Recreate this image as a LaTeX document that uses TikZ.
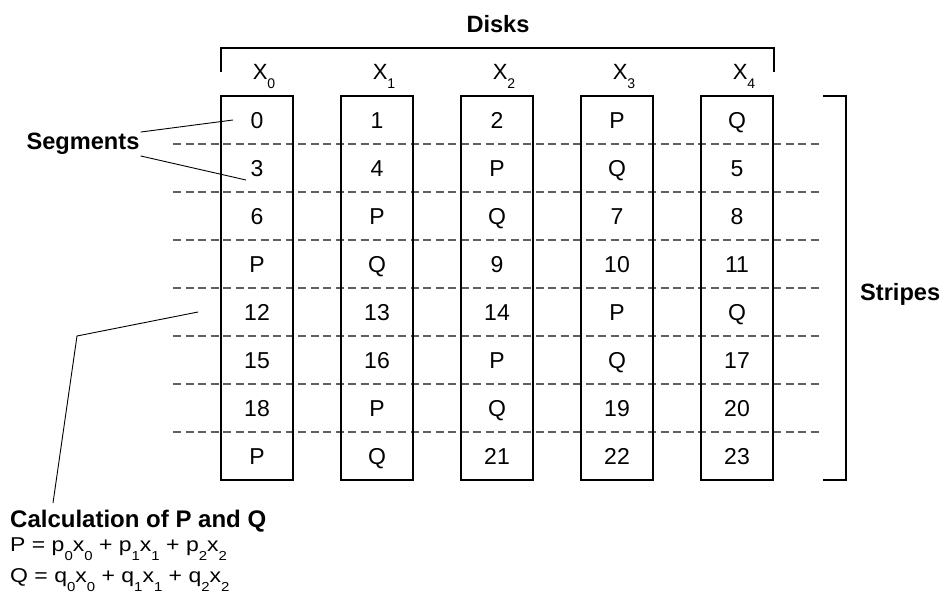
\documentclass[tikz,border=0pt]{standalone}
\usepackage{fontspec}
\setmainfont{Liberation Sans}
\usepackage{tikz}
\usetikzlibrary{positioning}

\definecolor{stripegray}{RGB}{95,95,95}

% low, small index digit
\newcommand{\idx}[2][14]{\raisebox{-9pt}{\fontsize{#1}{#1}\selectfont #2}}

\begin{document}
\begin{tikzpicture}[x=1pt,y=-1pt,font=\fontsize{23}{27}\selectfont]

	\tikzstyle{disk}=[draw, line width=1.1pt, minimum width=72pt, minimum height=384pt, inner sep=0pt];
	\tikzstyle{segment}=[inner sep=0pt, text height=16.5pt, text depth=0pt];
	\tikzstyle{stripe lines}=[stripegray, line width=1.1pt, dash pattern=on 8pt off 4.5pt];
	\tikzstyle{bracket lines}=[line width=1.1pt];
	\tikzstyle{pointer lines}=[line width=0.9pt];
	\tikzstyle{heading}=[font=\fontsize{23.6}{27}\selectfont\bfseries, inner sep=1pt];
	\tikzstyle{formula}=[anchor=base west, inner sep=0pt, font=\fontsize{20}{24}\selectfont];

	\useasboundingbox (0,0) rectangle (949,601);

	% stripe borders
	\foreach \r in {1,...,7}
		\draw[stripe lines] (173,{96+48*\r}) -- (819,{96+48*\r});

	% the five disks
	\foreach \d in {0,...,4} {
		\node[disk] (disk\d) at ({257+120*\d},288) {};
		\node[anchor=base, font=\fontsize{22}{26}\selectfont, inner sep=0pt] (name\d) at ({264+120*\d},80) {X\idx{\d}};
	}

	% segments, one row per stripe
	\foreach \r/\cells in {0/{0,1,2,P,Q},1/{3,4,P,Q,5},2/{6,P,Q,7,8},3/{P,Q,9,10,11},
		4/{12,13,14,P,Q},5/{15,16,P,Q,17},6/{18,P,Q,19,20},7/{P,Q,21,22,23}}
		\foreach \v [count=\c from 0] in \cells
			\node[segment] (cell-\r-\c) at ({257+120*\c},{120+48*\r}) {\v};

	% disks bracket
	\coordinate (dl) at (221,72);
	\coordinate (dr) at (774,72);
	\draw[bracket lines] (dl) -- (221,48) -- (774,48) -- (dr);
	\node[heading] (disks) at (498,24) {Disks};

	% stripes bracket
	\draw[bracket lines] (823,96) -- (846,96) -- (846,480) -- (823,480);
	\node[heading, anchor=base west, inner sep=0pt] (stripes) at (860,300) {Stripes};

	% segments label
	\node[heading] (segs) at (83,144) {Segments};
	\coordinate (s0) at (233,120);
	\coordinate (s1) at (246,180);
	\draw[pointer lines] (segs.north east) -- (s0);
	\draw[pointer lines] (segs.south east) -- (s1);

	% calculation of the parities
	\node[heading, anchor=base west, inner sep=0pt, font=\fontsize{24}{28}\selectfont\bfseries] (calc) at (10,527) {Calculation of P and Q};
	\node[formula] (pcalc) at (10,551)
		{\scalebox{1.15}[1]{P = p\idx[13]{0}x\idx[13]{0} + p\idx[13]{1}x\idx[13]{1} + p\idx[13]{2}x\idx[13]{2}}};
	\node[formula] (qcalc) at (10,582)
		{\scalebox{1.15}[1]{Q = q\idx[13]{0}x\idx[13]{0} + q\idx[13]{1}x\idx[13]{1} + q\idx[13]{2}x\idx[13]{2}}};
	\coordinate (k0) at (198,312);
	\coordinate (k1) at (77,336);
	\coordinate (k2) at (53,503);
	\draw[pointer lines] (k0) -- (k1) -- (k2);

\end{tikzpicture}
\end{document}
